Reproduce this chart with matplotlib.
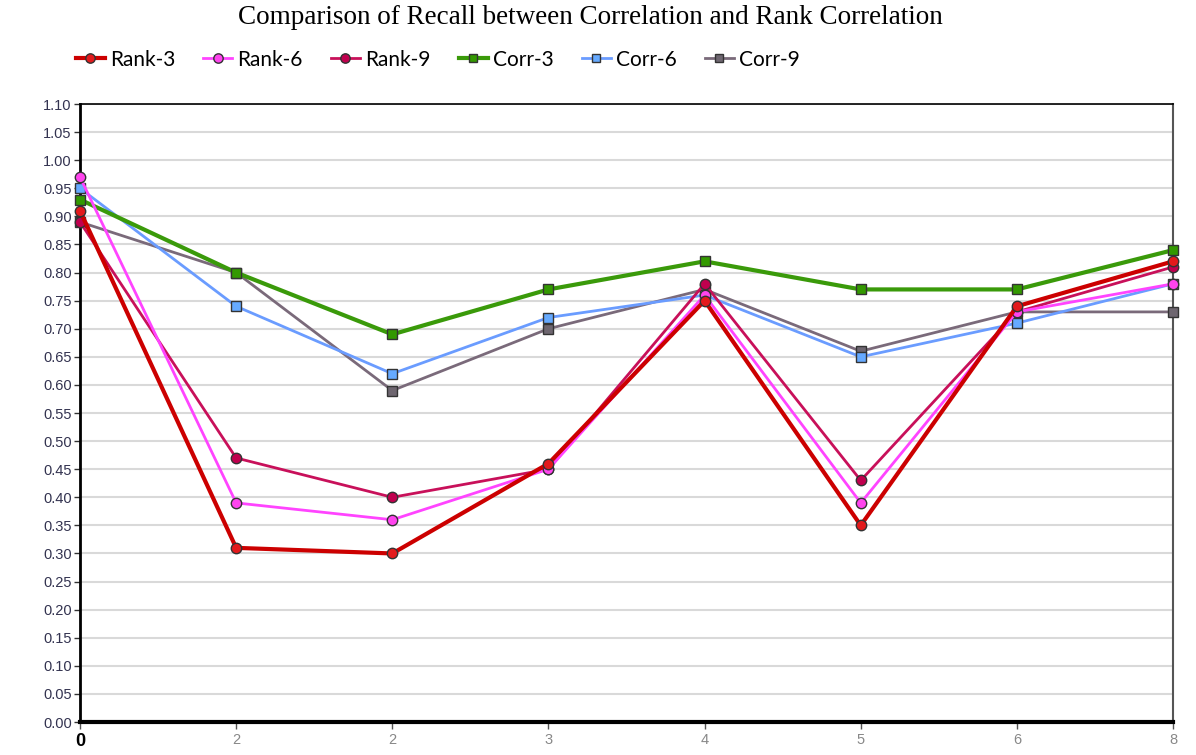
import matplotlib
matplotlib.use("Agg")
import matplotlib.pyplot as plt
import numpy as np

# 데이터
x_labels = ["0", "2", "2", "3", "4", "5", "6", "8"]
rank3 = [0.91, 0.31, 0.30, 0.46, 0.75, 0.35, 0.74, 0.82]
rank6 = [0.97, 0.39, 0.36, 0.45, 0.76, 0.39, 0.73, 0.78]
rank9 = [0.89, 0.47, 0.40, 0.45, 0.78, 0.43, 0.73, 0.81]
corr3 = [0.93, 0.80, 0.69, 0.77, 0.82, 0.77, 0.77, 0.84]
corr6 = [0.95, 0.74, 0.62, 0.72, 0.76, 0.65, 0.71, 0.78]
corr9 = [0.89, 0.80, 0.59, 0.70, 0.77, 0.66, 0.73, 0.73]

x = np.arange(len(x_labels))

fig = plt.figure(figsize=(11.96, 7.55), dpi=100)
ax = fig.add_axes([0.0669, 0.0437, 0.9139, 0.8185])

# 선 스타일: (데이터, 라벨, 선색, 마커색, 마커, 두께)
series = [
    (corr9, "Corr-9", "#7a6a7a", "#6e6670", "s", 2.0),
    (corr6, "Corr-6", "#6a9cff", "#66aaff", "s", 2.0),
    (corr3, "Corr-3", "#3a9a0a", "#339900", "s", 3.0),
    (rank9, "Rank-9", "#c8105a", "#c0004e", "o", 2.0),
    (rank6, "Rank-6", "#ff44ff", "#ff44ee", "o", 2.0),
    (rank3, "Rank-3", "#cc0000", "#e31a1c", "o", 3.0),
]
handles = {}
for y, lab, lc, mc, mk, lw in series:
    h, = ax.plot(x, y, color=lc, linewidth=lw, marker=mk, markersize=7.5 if mk == "o" else 7,
                 markerfacecolor=mc, markeredgecolor="#333333", markeredgewidth=1.0,
                 label=lab, clip_on=False, zorder=3)
    handles[lab] = h

order = ["Rank-3", "Rank-6", "Rank-9", "Corr-3", "Corr-6", "Corr-9"]
fig.legend([handles[k] for k in order], order, loc="upper left",
           bbox_to_anchor=(0.0475, 0.959), ncol=6, frameon=False,
           prop={"family": "Lato", "size": 15}, handlelength=1.4,
           handletextpad=0.25, columnspacing=1.34, markerscale=0.9)

ax.set_xlim(0, 7)
ax.set_ylim(0, 1.10)
ax.set_yticks(np.arange(0, 1.101, 0.05))
ax.set_yticklabels(["%.2f" % v for v in np.arange(0, 1.101, 0.05)],
                   fontsize=10.5, color="#333350", family="Liberation Sans")
ax.set_xticks(x)
ax.set_xticklabels(x_labels, fontsize=10.5, color="#888888", family="Liberation Sans")
ax.tick_params(axis="x", length=5, width=1, colors="#555555", pad=3)
ax.tick_params(axis="y", length=4, width=1, colors="#333333", pad=2)
for t in ax.get_xticklabels()[1:]:
    t.set_color("#888888")
first = ax.get_xticklabels()[0]
first.set_color("black")
first.set_fontweight("bold")
first.set_fontsize(13)
for t in ax.get_yticklabels():
    t.set_color("#333350")

ax.grid(axis="y", color="#d9d9d9", linewidth=1.5)
ax.set_axisbelow(True)
ax.spines["left"].set_linewidth(2)
ax.spines["left"].set_color("black")
ax.spines["bottom"].set_linewidth(3)
ax.spines["bottom"].set_color("black")
ax.spines["top"].set_linewidth(1.2)
ax.spines["top"].set_color("black")
ax.spines["right"].set_linewidth(1.5)
ax.spines["right"].set_color("#555555")

fig.text(0.4933, 0.968, "Comparison of Recall between Correlation and Rank Correlation",
         ha="center", va="baseline", fontsize=19.5, family="Liberation Serif", color="#000000")

fig.savefig("out.png", dpi=100)
